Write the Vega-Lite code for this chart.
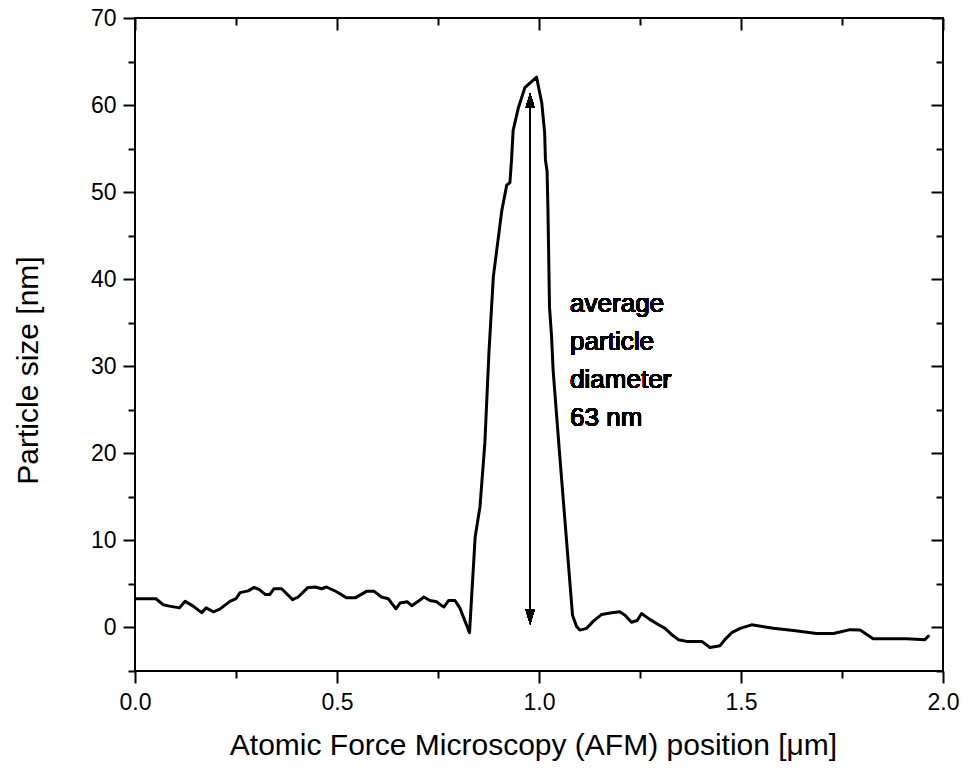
{
  "$schema": "https://vega.github.io/schema/vega-lite/v6.json",
  "width": 808,
  "height": 653,
  "autosize": "none",
  "padding": {"left": 135, "top": 18, "right": 24, "bottom": 104},
  "background": "white",
  "view": {"stroke": "black", "strokeWidth": 2},
  "config": {
    "font": "Liberation Sans",
    "view": {"stroke": "black", "strokeWidth": 2},
    "axis": {"domain": false, "grid": false, "tickColor": "black", "tickWidth": 2, "labelColor": "black", "titleColor": "black", "labelFont": "Liberation Sans", "titleFont": "Liberation Sans", "titleFontWeight": "normal", "labelFlush": false, "labelOverlap": false}
  },
  "data": {"values": [
    {"x": 0, "y": 3.3}, {"x": 0.052, "y": 3.3}, {"x": 0.07, "y": 2.6}, {"x": 0.085, "y": 2.45},
    {"x": 0.11, "y": 2.25}, {"x": 0.124, "y": 3.0}, {"x": 0.144, "y": 2.45}, {"x": 0.165, "y": 1.7},
    {"x": 0.176, "y": 2.25}, {"x": 0.194, "y": 1.8}, {"x": 0.21, "y": 2.1}, {"x": 0.235, "y": 3.0},
    {"x": 0.25, "y": 3.3}, {"x": 0.26, "y": 4.0}, {"x": 0.28, "y": 4.2}, {"x": 0.295, "y": 4.6},
    {"x": 0.308, "y": 4.35}, {"x": 0.322, "y": 3.8}, {"x": 0.334, "y": 3.8}, {"x": 0.344, "y": 4.45},
    {"x": 0.363, "y": 4.45}, {"x": 0.39, "y": 3.2}, {"x": 0.404, "y": 3.5}, {"x": 0.427, "y": 4.55},
    {"x": 0.446, "y": 4.65}, {"x": 0.462, "y": 4.45}, {"x": 0.474, "y": 4.65}, {"x": 0.499, "y": 4.1},
    {"x": 0.524, "y": 3.4}, {"x": 0.545, "y": 3.4}, {"x": 0.573, "y": 4.15}, {"x": 0.592, "y": 4.15},
    {"x": 0.61, "y": 3.5}, {"x": 0.627, "y": 3.3}, {"x": 0.635, "y": 2.8}, {"x": 0.646, "y": 2.15},
    {"x": 0.656, "y": 2.8}, {"x": 0.674, "y": 2.95}, {"x": 0.685, "y": 2.5}, {"x": 0.701, "y": 3.0},
    {"x": 0.715, "y": 3.5}, {"x": 0.73, "y": 3.1}, {"x": 0.747, "y": 2.95}, {"x": 0.753, "y": 2.7},
    {"x": 0.765, "y": 2.35}, {"x": 0.776, "y": 3.1}, {"x": 0.792, "y": 3.1}, {"x": 0.804, "y": 2.25},
    {"x": 0.828, "y": -0.6}, {"x": 0.842, "y": 10.4}, {"x": 0.854, "y": 13.9}, {"x": 0.866, "y": 21.2},
    {"x": 0.876, "y": 31.5}, {"x": 0.887, "y": 40.3}, {"x": 0.908, "y": 47.9}, {"x": 0.92, "y": 50.8},
    {"x": 0.928, "y": 51.1}, {"x": 0.932, "y": 53.7}, {"x": 0.936, "y": 57.1}, {"x": 0.949, "y": 59.7},
    {"x": 0.965, "y": 62.0}, {"x": 0.994, "y": 63.2}, {"x": 1.007, "y": 60.2}, {"x": 1.014, "y": 56.8},
    {"x": 1.016, "y": 53.7}, {"x": 1.02, "y": 52.4}, {"x": 1.022, "y": 48.3}, {"x": 1.0235, "y": 44.2},
    {"x": 1.026, "y": 36.8}, {"x": 1.031, "y": 33.5}, {"x": 1.035, "y": 29.5}, {"x": 1.05, "y": 20.5},
    {"x": 1.083, "y": 1.4}, {"x": 1.093, "y": 0.1}, {"x": 1.101, "y": -0.3}, {"x": 1.118, "y": -0.1},
    {"x": 1.134, "y": 0.7}, {"x": 1.155, "y": 1.5}, {"x": 1.18, "y": 1.7}, {"x": 1.2, "y": 1.8},
    {"x": 1.213, "y": 1.4}, {"x": 1.229, "y": 0.6}, {"x": 1.243, "y": 0.8}, {"x": 1.254, "y": 1.6},
    {"x": 1.275, "y": 0.9}, {"x": 1.295, "y": 0.35}, {"x": 1.312, "y": -0.1}, {"x": 1.328, "y": -0.8},
    {"x": 1.345, "y": -1.4}, {"x": 1.366, "y": -1.6}, {"x": 1.403, "y": -1.6}, {"x": 1.423, "y": -2.3},
    {"x": 1.448, "y": -2.1}, {"x": 1.46, "y": -1.4}, {"x": 1.477, "y": -0.6}, {"x": 1.498, "y": -0.1},
    {"x": 1.526, "y": 0.3}, {"x": 1.58, "y": -0.1}, {"x": 1.63, "y": -0.35}, {"x": 1.687, "y": -0.7},
    {"x": 1.729, "y": -0.7}, {"x": 1.77, "y": -0.25}, {"x": 1.795, "y": -0.3}, {"x": 1.827, "y": -1.3},
    {"x": 1.91, "y": -1.3}, {"x": 1.955, "y": -1.4}, {"x": 1.966, "y": -0.9}
  ]},
  "resolve": {"axis": {"x": "independent", "y": "independent"}},
  "layer": [
    {
      "mark": {"type": "line", "color": "black", "strokeWidth": 3, "strokeJoin": "round"},
      "encoding": {
        "x": {"field": "x", "type": "quantitative", "scale": {"domain": [0, 2], "nice": false, "zero": false},
          "axis": {"orient": "bottom", "values": [0, 0.5, 1, 1.5, 2], "format": ".1f", "tickSize": 12, "tickWidth": 2, "labelFontSize": 23, "labelPadding": 8, "title": "Atomic Force Microscopy (AFM) position [μm]", "titleFontSize": 30, "titlePadding": 16, "titleX": 398}},
        "y": {"field": "y", "type": "quantitative", "scale": {"domain": [-5, 70], "nice": false, "zero": false},
          "axis": {"orient": "left", "values": [0, 10, 20, 30, 40, 50, 60, 70], "tickSize": 12, "tickWidth": 2, "labelFontSize": 23, "labelPadding": 7, "title": "Particle size [nm]", "titleFontSize": 30, "titlePadding": 47, "titleY": 352}}
      }
    },
    {
      "mark": {"type": "line", "strokeOpacity": 0},
      "encoding": {
        "x": {"field": "x", "type": "quantitative", "axis": {"orient": "bottom", "values": [0.25, 0.75, 1.25, 1.75], "tickSize": 7, "tickWidth": 2, "labels": false, "title": null}},
        "y": {"field": "y", "type": "quantitative", "axis": {"orient": "left", "values": [-5, 5, 15, 25, 35, 45, 55, 65], "tickSize": 7, "tickWidth": 2, "labels": false, "title": null}}
      }
    },
    {
      "mark": {"type": "line", "strokeOpacity": 0},
      "encoding": {
        "x": {"field": "x", "type": "quantitative", "axis": {"orient": "top", "values": [0, 0.5, 1, 1.5, 2], "tickSize": -12, "tickWidth": 2, "labels": false, "title": null}},
        "y": {"field": "y", "type": "quantitative", "axis": {"orient": "right", "values": [0, 10, 20, 30, 40, 50, 60, 70], "tickSize": -12, "tickWidth": 2, "labels": false, "title": null}}
      }
    },
    {
      "mark": {"type": "line", "strokeOpacity": 0},
      "encoding": {
        "x": {"field": "x", "type": "quantitative", "axis": {"orient": "top", "values": [0.25, 0.75, 1.25, 1.75], "tickSize": -7, "tickWidth": 2, "labels": false, "title": null}},
        "y": {"field": "y", "type": "quantitative", "axis": {"orient": "right", "values": [-5, 5, 15, 25, 35, 45, 55, 65], "tickSize": -7, "tickWidth": 2, "labels": false, "title": null}}
      }
    },
    {
      "mark": {"type": "rule", "color": "black", "strokeWidth": 1.2},
      "encoding": {
        "x": {"datum": 0.978, "type": "quantitative", "axis": null},
        "y": {"datum": 1.0, "type": "quantitative", "axis": null},
        "y2": {"datum": 60.5}
      }
    },
    {
      "mark": {"type": "point", "shape": "M0,0L0.6,2L-0.6,2Z", "size": 225, "filled": true, "color": "black", "opacity": 1, "strokeWidth": 0},
      "encoding": {
        "x": {"datum": 0.978, "type": "quantitative", "axis": null},
        "y": {"datum": 61.4, "type": "quantitative", "axis": null}
      }
    },
    {
      "mark": {"type": "point", "shape": "M0,0L0.6,-2L-0.6,-2Z", "size": 225, "filled": true, "color": "black", "opacity": 1, "strokeWidth": 0},
      "encoding": {
        "x": {"datum": 0.978, "type": "quantitative", "axis": null},
        "y": {"datum": 0.35, "type": "quantitative", "axis": null}
      }
    },
    {
      "mark": {"type": "text", "align": "left", "baseline": "alphabetic", "fontSize": 26, "lineHeight": 38, "lineBreak": "\n", "color": "black", "font": "Liberation Sans"},
      "encoding": {
        "x": {"datum": 1.077, "type": "quantitative", "axis": null},
        "y": {"datum": 36.2, "type": "quantitative", "axis": null},
        "text": {"value": "average\nparticle\ndiameter\n63 nm"}
      }
    }
  ]
}
